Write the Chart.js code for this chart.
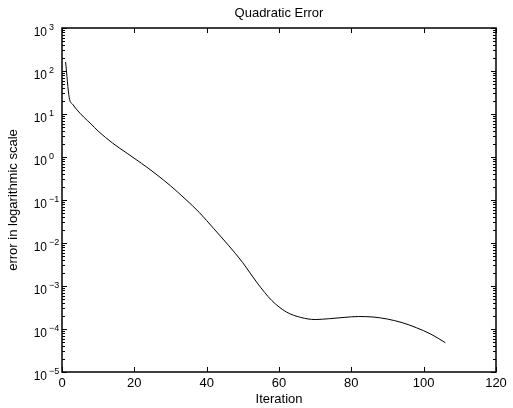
<!DOCTYPE html>
<html>
<head>
<meta charset="utf-8">
<script src="https://cdn.jsdelivr.net/npm/chart.js@4/dist/chart.umd.min.js"></script>
<style>
  html, body { margin: 0; padding: 0; background: #fff; }
  #wrap { width: 513px; height: 408px; position: relative; }
</style>
</head>
<body>
<div id="wrap"><canvas id="chartError"></canvas></div>
<script>
// iteration numbers
const iterations = [1, 2, 3, 4, 6, 8, 10, 14, 18, 22, 26, 30, 34, 38, 42, 46, 50,
  54, 58, 62, 66, 70, 74, 78, 82, 86, 90, 94, 98, 102, 106];
// quadratic error at those iterations
const errors = [162, 24, 16.6, 12.9, 8.5, 5.9, 4.0, 2.1, 1.22, 0.71, 0.40, 0.214, 0.107,
  0.051, 0.0214, 0.0089, 0.00347, 0.00117, 4.6e-4, 2.5e-4, 1.86e-4, 1.66e-4, 1.74e-4,
  1.86e-4, 1.95e-4, 1.9e-4, 1.7e-4, 1.41e-4, 1.07e-4, 7.6e-5, 4.8e-5];
// axis ticks
const xTicks = [0, 20, 40, 60, 80, 100, 120];
const yExponents = [3, 2, 1, 0, -1, -2, -3, -4, -5];

const titleText = 'Quadratic Error';
const xLabel = 'Iteration';
const yLabel = 'error in logarithmic scale';

const FONT = 'Liberation Sans, Arial, Helvetica, sans-serif';

function supText(n){
  return n < 0 ? '\u2212' + Math.abs(n) : String(n);
}

// matlab style box, inward ticks, 10^n labels and the title
const matlabAxes = {
  id: 'matlabAxes',
  afterDraw(chart){
    const ctx = chart.ctx;
    const area = chart.chartArea;
    const xs = chart.scales.x;
    const ys = chart.scales.y;
    ctx.save();
    ctx.strokeStyle = '#000';
    ctx.lineWidth = 1;

    // x ticks bottom and top
    ctx.beginPath();
    xTicks.forEach(v => {
      let px = Math.round(xs.getPixelForValue(v)) + 0.5;
      ctx.moveTo(px, area.bottom); ctx.lineTo(px, area.bottom - 5);
      ctx.moveTo(px, area.top); ctx.lineTo(px, area.top + 5);
    });
    // y ticks left and right, major and minor
    yExponents.forEach(e => {
      let py = Math.round(ys.getPixelForValue(Math.pow(10, e))) + 0.5;
      ctx.moveTo(area.left, py); ctx.lineTo(area.left + 5, py);
      ctx.moveTo(area.right, py); ctx.lineTo(area.right - 5, py);
      if (e < 3) {
        for (let m = 2; m <= 9; m++) {
          let my = Math.round(ys.getPixelForValue(m * Math.pow(10, e))) + 0.5;
          ctx.moveTo(area.left, my); ctx.lineTo(area.left + 3, my);
          ctx.moveTo(area.right, my); ctx.lineTo(area.right - 3, my);
        }
      }
    });
    ctx.stroke();

    // box
    ctx.lineWidth = 1.5;
    ctx.strokeRect(area.left, area.top, area.right - area.left, area.bottom - area.top);

    // y labels 10^n
    ctx.fillStyle = '#000';
    yExponents.forEach(e => {
      let py = ys.getPixelForValue(Math.pow(10, e));
      ctx.font = '12px ' + FONT;
      ctx.textAlign = 'right';
      ctx.textBaseline = 'alphabetic';
      ctx.fillText('10', area.left - 15, py + 8);
      ctx.font = '9px ' + FONT;
      ctx.textAlign = 'left';
      ctx.fillText(supText(e), area.left - 13, py + 2);
    });

    // title
    ctx.font = '13px ' + FONT;
    ctx.textAlign = 'center';
    ctx.textBaseline = 'middle';
    ctx.fillText(titleText, (area.left + area.right) / 2, 13);
    ctx.restore();
  }
};

const ctx = document.getElementById('chartError').getContext('2d');
const errorChart = new Chart(ctx, {
  type: 'line',
  data: {
    datasets: [{
      data: iterations.map((it, i) => ({ x: it, y: errors[i] })),
      borderColor: '#000',
      borderWidth: 1,
      pointRadius: 0,
      fill: false,
      cubicInterpolationMode: 'monotone'
    }]
  },
  options: {
    responsive: true,
    maintainAspectRatio: false,
    animation: false,
    layout: {
      padding: { left: 0, right: 17, top: 28, bottom: 0 }
    },
    plugins: {
      legend: { display: false },
      tooltip: { enabled: false },
      title: { display: false }
    },
    scales: {
      x: {
        type: 'linear',
        min: 0,
        max: 120,
        afterFit: (scale) => { scale.height = 36; },
        afterBuildTicks: (scale) => { scale.ticks = xTicks.map(v => ({ value: v })); },
        grid: { display: false, drawTicks: false },
        border: { display: false },
        ticks: {
          color: '#000',
          padding: 4,
          maxRotation: 0,
          font: { family: FONT, size: 13 }
        },
        title: {
          display: true,
          text: xLabel,
          color: '#000',
          padding: { top: 0, bottom: 1 },
          font: { family: FONT, size: 13 }
        }
      },
      y: {
        type: 'logarithmic',
        min: 1e-5,
        max: 1e3,
        afterFit: (scale) => { scale.width = 62; },
        grid: { display: false, drawTicks: false },
        border: { display: false },
        ticks: { display: false },
        title: {
          display: true,
          text: yLabel,
          color: '#000',
          padding: { top: 6, bottom: 0 },
          font: { family: FONT, size: 13 }
        }
      }
    }
  },
  plugins: [matlabAxes]
});
</script>
</body>
</html>
